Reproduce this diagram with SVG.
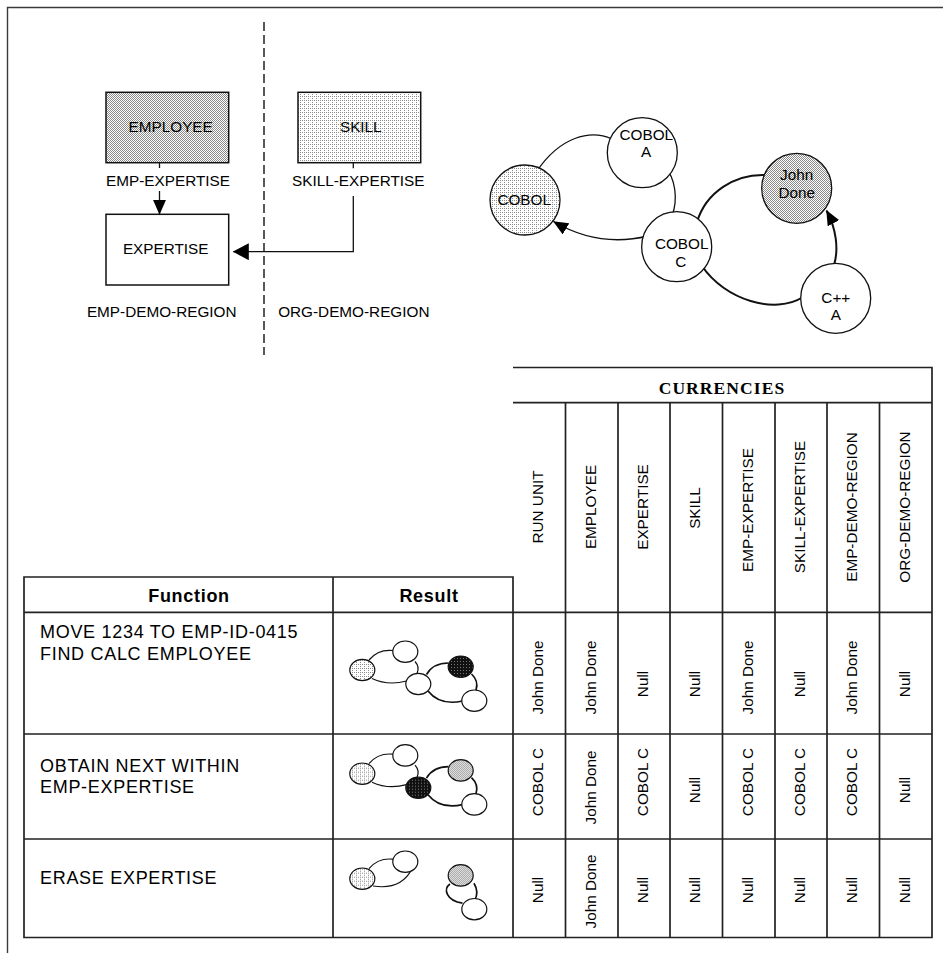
<svg xmlns="http://www.w3.org/2000/svg" width="943" height="953" viewBox="0 0 943 953">
  <defs>
    <style>
      .frame{fill:none;stroke:#3a3a3a;stroke-width:1.4}
      .box{stroke:#111;stroke-width:1.5}
      .lbl{font-family:"Liberation Sans",Arial,sans-serif;font-size:15.3px;fill:#000}
      .mid{text-anchor:middle}
      .link{fill:none;stroke:#111;stroke-width:1.3}
      .thick{stroke-width:2}
      .dash{fill:none;stroke:#222;stroke-width:1.5;stroke-dasharray:9 4}
      .node{stroke:#111;stroke-width:1.3}
      .grid{fill:none;stroke:#222;stroke-width:1.7}
      .hdr{font-family:"Liberation Serif","Times New Roman",serif;font-weight:bold;font-size:17.5px;letter-spacing:1.1px;fill:#000}
      .fn{font-family:"Liberation Sans",Arial,sans-serif;font-size:18px;letter-spacing:0.7px;fill:#000}
      .fnb{font-weight:bold}
      .mini{stroke:#111;stroke-width:1.2}
      .mlink{fill:none;stroke:#111;stroke-width:1.2}
      .mthick{stroke-width:1.7}
    </style>
    <pattern id="stipple" width="2" height="2" patternUnits="userSpaceOnUse">
      <rect width="2" height="2" fill="#fff"/>
      <rect width="1" height="1" fill="#8a8a8a"/>
      <rect x="1" y="1" width="1" height="1" fill="#8a8a8a"/>
    </pattern>
    <pattern id="dotgrid" width="4" height="4" patternUnits="userSpaceOnUse">
      <rect width="4" height="4" fill="#fff"/>
      <rect width="1" height="1" fill="#8c8c8c"/>
      <rect x="2" width="1" height="1" fill="#8c8c8c"/>
      <rect y="2" width="1" height="1" fill="#8c8c8c"/>
    </pattern>
    <pattern id="dark" width="3" height="3" patternUnits="userSpaceOnUse">
      <rect width="3" height="3" fill="#111"/>
      <rect x="1" y="1" width="1" height="1" fill="#777"/>
    </pattern>
    <marker id="arrow" markerUnits="userSpaceOnUse" viewBox="0 0 15 13" markerWidth="15" markerHeight="13" refX="14.5" refY="6.5" orient="auto">
      <path d="M0,0 L15,6.5 L0,13 z" fill="#000"/>
    </marker>
    <marker id="arrow-lg" markerUnits="userSpaceOnUse" viewBox="0 0 16 17" markerWidth="16" markerHeight="17" refX="15.5" refY="8.5" orient="auto">
      <path d="M0,0 L16,8.5 L0,17 z" fill="#000"/>
    </marker>
  </defs>

  <!-- page frame -->
  <path class="frame" d="M7.5,953 V7.5 H943"/>

  <!-- region divider -->
  <line class="dash" x1="264" y1="22" x2="264" y2="355"/>

  <!-- record types -->
  <g id="employee">
    <rect class="box" x="106" y="92.3" width="122.7" height="70.4" fill="url(#stipple)"/>
    <text class="lbl mid" x="170.7" y="131.7">EMPLOYEE</text>
  </g>
  <g id="skill">
    <rect class="box" x="298" y="92.3" width="122.7" height="70.4" fill="url(#dotgrid)"/>
    <text class="lbl mid" x="360.8" y="131.7">SKILL</text>
  </g>
  <g id="expertise">
    <rect class="box" x="106" y="214.3" width="122.7" height="70.7" fill="#fff"/>
    <text class="lbl mid" x="165.7" y="254">EXPERTISE</text>
  </g>
  <g id="region-labels">
    <text class="lbl mid" x="161.7" y="317.3">EMP-DEMO-REGION</text>
    <text class="lbl mid" x="353.8" y="317.3">ORG-DEMO-REGION</text>
  </g>

  <!-- set connectors -->
  <g id="sets">
    <path class="link" d="M159.5,162.7 V168"/>
    <path class="link" d="M159.5,191 V214.3" marker-end="url(#arrow)"/>
    <text class="lbl mid" x="168" y="186">EMP-EXPERTISE</text>
    <path class="link" d="M353.3,162.7 V168.3"/>
    <path class="link" d="M353.3,196 V251.7 H233.3" marker-end="url(#arrow-lg)"/>
    <text class="lbl mid" x="358.3" y="186">SKILL-EXPERTISE</text>
  </g>

  <!-- occurrence diagram: connectors -->
  <g id="occurrence-links">
    <path class="link" d="M612,139 C590,129 560,137 537,171"/>
    <path class="link" d="M664,166 C676,178 678,200 672,216"/>
    <path class="link" d="M648,236 C615,244 585,240 553.5,221.5" marker-end="url(#arrow)"/>
    <path class="link thick" d="M697,222 C706,192 735,174 765,175"/>
    <path class="link thick" d="M702,266 C725,300 775,315 803,297"/>
    <path class="link thick" d="M834,265 C839,249 836,228 826.5,210.5" marker-end="url(#arrow)"/>
  </g>

  <!-- occurrence diagram: records -->
  <g id="cobol-a">
    <circle class="node" cx="642.3" cy="152.7" r="35" fill="#fff"/>
    <text class="lbl mid" x="646.3" y="140">COBOL</text>
    <text class="lbl mid" x="646" y="157.3">A</text>
  </g>
  <g id="cobol">
    <circle class="node" cx="525" cy="200" r="35" fill="url(#dotgrid)"/>
    <text class="lbl mid" x="524.2" y="205">COBOL</text>
  </g>
  <g id="john-done">
    <circle class="node" cx="796.7" cy="188.3" r="35" fill="url(#stipple)"/>
    <text class="lbl mid" x="796.7" y="180">John</text>
    <text class="lbl mid" x="796.7" y="198.3">Done</text>
  </g>
  <g id="cobol-c">
    <circle class="node" cx="676.7" cy="246.7" r="35" fill="#fff"/>
    <text class="lbl mid" x="681.7" y="249">COBOL</text>
    <text class="lbl mid" x="680.7" y="266.7">C</text>
  </g>
  <g id="cpp-a">
    <circle class="node" cx="835.7" cy="298.3" r="35" fill="#fff"/>
    <text class="lbl mid" x="835.8" y="302.7">C++</text>
    <text class="lbl mid" x="835.8" y="320">A</text>
  </g>

  <!-- currency table -->
  <g id="table-grid">
    <path class="grid" d="M513,367.5 H932 V937.5 H24 V577 H513 V937.5"/>
    <path class="grid" d="M513,402.7 H932 M24,612.3 H932 M24,734 H932 M24,839 H932"/>
    <path class="grid" d="M333,577 V937.5 M565.5,402.7 V937.5 M618,402.7 V937.5 M670,402.7 V937.5 M722.5,402.7 V937.5 M775,402.7 V937.5 M827,402.7 V937.5 M879.5,402.7 V937.5"/>
  </g>
  <g id="table-headings">
    <text class="hdr mid" x="722" y="394">CURRENCIES</text>
    <text class="fn fnb mid" x="189" y="601.7">Function</text>
    <text class="fn fnb mid" x="429" y="601.7">Result</text>
    <g class="lbl mid">
      <text transform="translate(543.3,507) rotate(-90)">RUN UNIT</text>
      <text transform="translate(595.8,507) rotate(-90)">EMPLOYEE</text>
      <text transform="translate(648,507) rotate(-90)">EXPERTISE</text>
      <text transform="translate(700.3,508) rotate(-90)">SKILL</text>
      <text transform="translate(752.8,510) rotate(-90)">EMP-EXPERTISE</text>
      <text transform="translate(805,507) rotate(-90)">SKILL-EXPERTISE</text>
      <text transform="translate(857.3,507) rotate(-90)">EMP-DEMO-REGION</text>
      <text transform="translate(909.8,507) rotate(-90)">ORG-DEMO-REGION</text>
    </g>
  </g>

  <!-- row 1 -->
  <g id="row-find">
    <text class="fn" x="40" y="638">MOVE 1234 TO EMP-ID-0415</text>
    <text class="fn" x="40" y="660">FIND CALC EMPLOYEE</text>
    <g class="lbl mid">
      <text transform="translate(543.3,677.5) rotate(-90)">John Done</text>
      <text transform="translate(595.8,677.5) rotate(-90)">John Done</text>
      <text transform="translate(648,684) rotate(-90)">Null</text>
      <text transform="translate(700.3,684) rotate(-90)">Null</text>
      <text transform="translate(752.8,677.5) rotate(-90)">John Done</text>
      <text transform="translate(805,684) rotate(-90)">Null</text>
      <text transform="translate(857.3,677.5) rotate(-90)">John Done</text>
      <text transform="translate(909.8,684) rotate(-90)">Null</text>
    </g>
    <g id="result-find">
      <path class="mlink" d="M369,660 Q378,649 393,650.5"/>
      <path class="mlink" d="M372,678.5 Q388,686 406.5,681"/>
      <path class="mlink" d="M415,661.5 Q420,667 417,673.5"/>
      <path class="mlink mthick" d="M426.5,674.5 Q433,663 448.5,663"/>
      <path class="mlink mthick" d="M428,691 Q440,706 462.5,701"/>
      <path class="mlink mthick" d="M476,690 Q479,681 471.5,674"/>
      <ellipse class="mini" cx="362.3" cy="670" rx="12.5" ry="10.7" fill="url(#dotgrid)"/>
      <ellipse class="mini" cx="405.3" cy="651.7" rx="12.5" ry="10.7" fill="#fff"/>
      <ellipse class="mini" cx="418.3" cy="684" rx="12.5" ry="10.7" fill="#fff"/>
      <ellipse class="mini" cx="460.7" cy="666.7" rx="12.5" ry="10.7" fill="url(#dark)"/>
      <ellipse class="mini" cx="474.3" cy="700.7" rx="12.5" ry="10.7" fill="#fff"/>
    </g>
  </g>

  <!-- row 2 -->
  <g id="row-obtain">
    <text class="fn" x="40" y="771.7">OBTAIN NEXT WITHIN</text>
    <text class="fn" x="40" y="793.3">EMP-EXPERTISE</text>
    <g class="lbl mid">
      <text transform="translate(543.3,782) rotate(-90)">COBOL C</text>
      <text transform="translate(595.8,787.5) rotate(-90)">John Done</text>
      <text transform="translate(648,782) rotate(-90)">COBOL C</text>
      <text transform="translate(700.3,790) rotate(-90)">Null</text>
      <text transform="translate(752.8,782) rotate(-90)">COBOL C</text>
      <text transform="translate(805,782) rotate(-90)">COBOL C</text>
      <text transform="translate(857.3,782) rotate(-90)">COBOL C</text>
      <text transform="translate(909.8,790) rotate(-90)">Null</text>
    </g>
    <g id="result-obtain" transform="translate(0,103.7)">
      <path class="mlink" d="M369,660 Q378,649 393,650.5"/>
      <path class="mlink" d="M372,678.5 Q388,686 406.5,681"/>
      <path class="mlink" d="M415,661.5 Q420,667 417,673.5"/>
      <path class="mlink mthick" d="M426.5,674.5 Q433,663 448.5,663"/>
      <path class="mlink mthick" d="M428,691 Q440,706 462.5,701"/>
      <path class="mlink mthick" d="M476,690 Q479,681 471.5,674"/>
      <ellipse class="mini" cx="362.3" cy="670" rx="12.5" ry="10.7" fill="url(#dotgrid)"/>
      <ellipse class="mini" cx="405.3" cy="651.7" rx="12.5" ry="10.7" fill="#fff"/>
      <ellipse class="mini" cx="418.3" cy="684" rx="12.5" ry="10.7" fill="url(#dark)"/>
      <ellipse class="mini" cx="460.7" cy="666.7" rx="12.5" ry="10.7" fill="url(#stipple)"/>
      <ellipse class="mini" cx="474.3" cy="700.7" rx="12.5" ry="10.7" fill="#fff"/>
    </g>
  </g>

  <!-- row 3 -->
  <g id="row-erase">
    <text class="fn" x="40" y="884">ERASE EXPERTISE</text>
    <g class="lbl mid">
      <text transform="translate(543.3,890) rotate(-90)">Null</text>
      <text transform="translate(595.8,891.5) rotate(-90)">John Done</text>
      <text transform="translate(648,890) rotate(-90)">Null</text>
      <text transform="translate(700.3,890) rotate(-90)">Null</text>
      <text transform="translate(752.8,890) rotate(-90)">Null</text>
      <text transform="translate(805,890) rotate(-90)">Null</text>
      <text transform="translate(857.3,890) rotate(-90)">Null</text>
      <text transform="translate(909.8,890) rotate(-90)">Null</text>
    </g>
    <g id="result-erase" transform="translate(0,208.7)">
      <path class="mlink" d="M369,660 Q378,649 393,650.5"/>
      <path class="mlink" d="M373,677.3 Q401,681.6 411.7,660.6"/>
      <path class="mlink mthick" d="M450,675.3 C443,680 446,692 462.5,694.5"/>
      <path class="mlink mthick" d="M474,674.6 Q479,683 475,691.3"/>
      <ellipse class="mini" cx="362.3" cy="670" rx="12.5" ry="10.7" fill="url(#dotgrid)"/>
      <ellipse class="mini" cx="405.3" cy="653" rx="12.5" ry="10.7" fill="#fff"/>
      <ellipse class="mini" cx="460.7" cy="666.7" rx="12.5" ry="10.7" fill="url(#stipple)"/>
      <ellipse class="mini" cx="474.3" cy="700.5" rx="12.5" ry="10.7" fill="#fff"/>
    </g>
  </g>
</svg>
